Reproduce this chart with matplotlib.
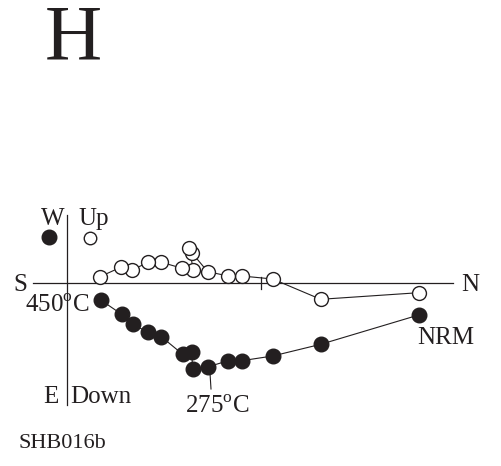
import matplotlib.pyplot as plt
import numpy as np

plt.rcParams['font.family'] = ['Liberation Serif', 'DejaVu Serif']
plt.rcParams['mathtext.fontset'] = 'custom'
plt.rcParams['mathtext.rm'] = 'Liberation Serif'

INK = '#231f20'

# demagnetization steps, NRM first (units: arbitrary, same scale on both axes)
north_h = [351.7, 253.7, 205.7, 174.7, 161.3, 141.3, 125.7, 124.7, 115.7, 94.3, 80.7, 65.7, 54.7, 33.7]
east_h = [32, 61.3, 73, 77.7, 77.7, 83.7, 86.3, 69.3, 71.3, 53.7, 49.3, 41, 31.3, 17]

north_v = [351.7, 253.7, 205.7, 174.7, 161.3, 140.7, 125.3, 122.3, 126.3, 115.3, 94.3, 81, 65.3, 53.7, 33]
up_v = [-9.7, -16.3, 4, 7, 7, 11.3, 29.7, 34.7, 13, 14.7, 20.7, 20.7, 13, 15.7, 6.3]

# key markers next to the W / Up labels
key_h = (-17.7, 46.3)
key_v = (23, 45.3)

fig = plt.figure(figsize=(5.02, 4.66), dpi=100)
ax = fig.add_axes([0, 0, 1, 1])
ax.set_xlim(-67, 435)
ax.set_ylim(-183, 283)
ax.axis('off')

# axes of the diagram
ax.plot([-34, 386], [0, 0], color=INK, lw=0.9)
ax.plot([0, 0], [68, -122], color=INK, lw=0.9)
ax.plot([194, 194], [6, -6], color=INK, lw=0.9)

# horizontal projection (solid), plotted with east downward
ax.plot(north_h, -np.array(east_h), '-o', color=INK, lw=0.8, ms=10.5,
        mfc=INK, mec=INK, zorder=3)
# vertical projection (open)
ax.plot(north_v, up_v, '-o', color=INK, lw=0.8, ms=10, mfc='white',
        mec=INK, mew=1.0, zorder=3)

ax.plot(*key_h, 'o', ms=10.5, color=INK)
ax.plot(*key_v, 'o', ms=9, mfc='white', mec=INK, mew=1.0)

# leader to 275 C step
ax.plot([143, 144], [-90, -106], color=INK, lw=0.8)

kw = dict(color=INK, fontsize=18, ha='center', va='center')
ax.text(-47, -2, 'S', **kw)
ax.text(403, -2, 'N', **kw)
ax.text(-14, 64, 'W', **kw)
ax.text(11, 64, 'Up', color=INK, fontsize=18, ha='left', va='center')
ax.text(-16, -114, 'E', **kw)
ax.text(3, -114, 'Down', color=INK, fontsize=18, ha='left', va='center')
ax.text(-10, -23, r'450$^\mathrm{o}$C', **kw)
ax.text(150, -124, r'275$^\mathrm{o}$C', **kw)
ax.text(379, -55, 'NRM', **kw)

fig.text(73 / 502, 1 - 40 / 466, 'H', color=INK, fontsize=57, ha='center', va='center')
fig.text(18 / 502, 1 - 443 / 466, 'SHB016b', color=INK, fontsize=16, ha='left', va='center')

fig.savefig('out.png', dpi=100)
